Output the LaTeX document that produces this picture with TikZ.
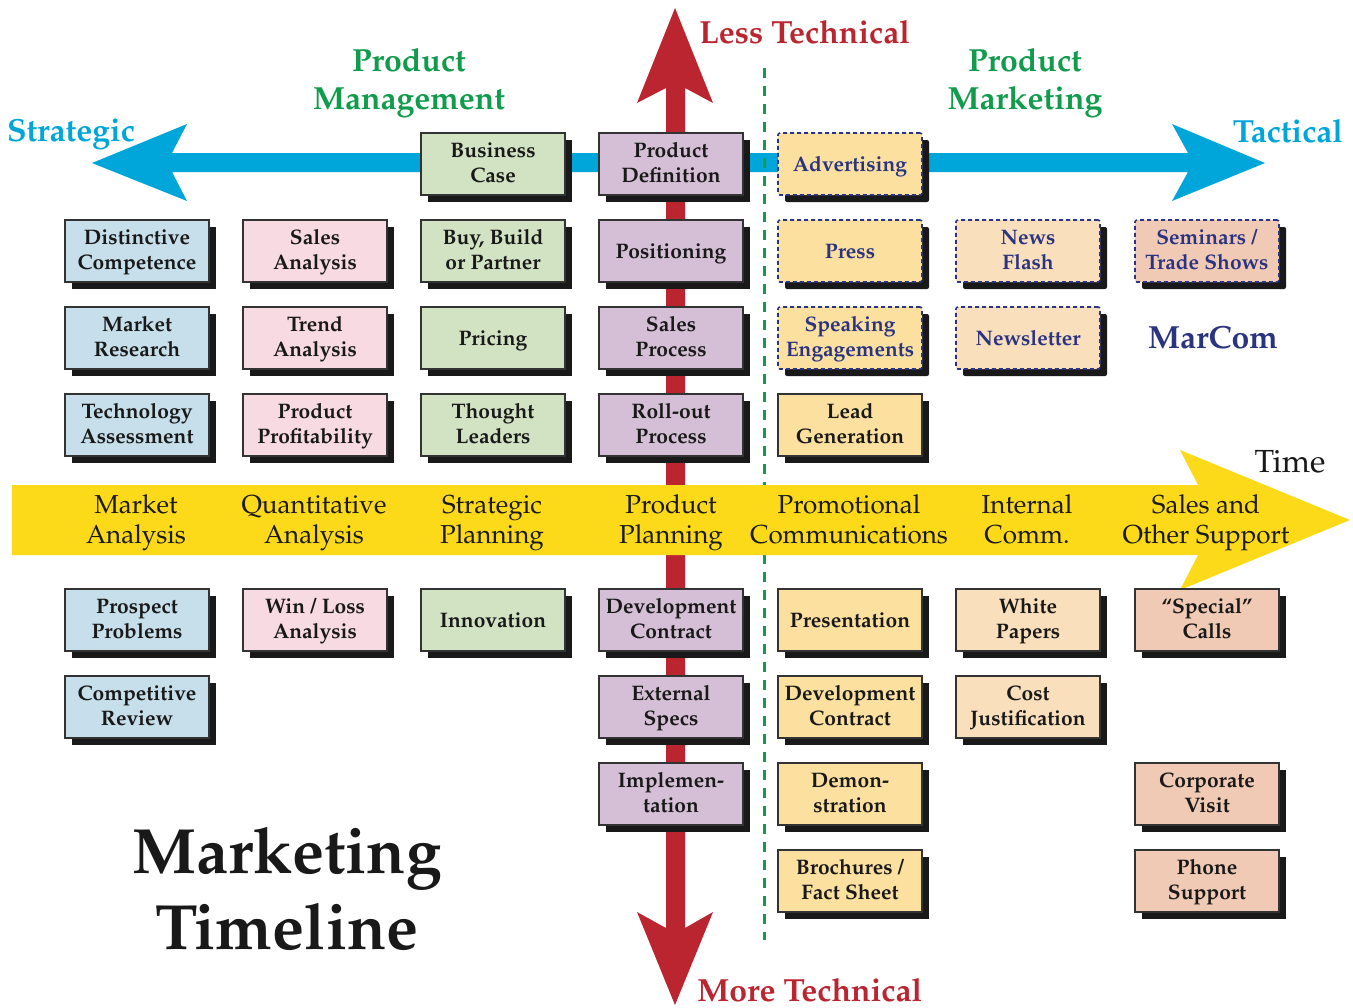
\documentclass[tikz,border=0pt]{standalone}
\usepackage[T1]{fontenc}
\usepackage{mathpazo}
\usetikzlibrary{shadows}

\definecolor{stratblue}{HTML}{00A6DA}
\definecolor{techred}{HTML}{BB2530}
\definecolor{timeyellow}{HTML}{FCD919}
\definecolor{pmgreen}{HTML}{109C4C}
\definecolor{navy}{HTML}{2B3480}
\definecolor{cblue}{HTML}{C6DFEA}
\definecolor{cpink}{HTML}{F8DAE3}
\definecolor{cgreen}{HTML}{D2E3C4}
\definecolor{cpurple}{HTML}{D5BFD6}
\definecolor{cyellow}{HTML}{FBE0A0}
\definecolor{cpeach}{HTML}{F9DFBB}
\definecolor{csalmon}{HTML}{F0CAB4}

\begin{document}
\begin{tikzpicture}[x=0.5pt, y=-0.5pt]
        \tikzstyle{every node}=[inner sep=0pt]
        \tikzstyle{box}=[rectangle, draw=black!80, line width=0.8pt, minimum width=72pt, minimum height=31pt, align=center, text=black!90, font=\fontsize{10.5}{12.5}\selectfont\bfseries, execute at begin node=\strut, text depth=1.5pt, drop shadow={shadow xshift=3.5pt, shadow yshift=-3.5pt, opacity=1, fill=black!90}]
        \tikzstyle{marcom}=[draw=navy, text=navy, dash pattern=on 2pt off 1.5pt, rounded corners=1pt]
        \tikzstyle{band}=[align=center, text=black!90, font=\fontsize{13}{15}\selectfont, execute at begin node=\strut, execute at end node=\strut]
        \tikzstyle{head}=[align=center, font=\fontsize{16}{19}\selectfont\bfseries]
        \useasboundingbox (0,0) rectangle (1353,1007);
        % axes
        \fill[stratblue] (92,163) -- (187,124) -- (172,153) -- (1188,153) -- (1172,124) -- (1265,163) -- (1172,201) -- (1188,172) -- (172,172) -- (187,201) -- cycle;
        \fill[techred] (675,8) -- (713,103) -- (685,88) -- (685,928) -- (713,912) -- (675,1005) -- (637,912) -- (666,928) -- (666,88) -- (637,103) -- cycle;
        \draw[pmgreen, line width=1.5pt, dash pattern=on 5pt off 4pt] (764,68) -- (764,940);
        \fill[timeyellow] (12,485) -- (1198,485) -- (1180,450) -- (1350,520) -- (1180,590) -- (1198,555) -- (12,555) -- cycle;
        % headings
        \node[head, text=stratblue] (strategic) at (71,134) {Strategic};
        \node[head, text=stratblue] (tactical) at (1288,131) {Tactical};
        \node[head, text=pmgreen] (prodmgmt) at (409,83) {Product\\Management};
        \node[head, text=pmgreen] (prodmkt) at (1025,83) {Product\\Marketing};
        \node[head, text=techred, anchor=west] (lesstech) at (699,32) {Less Technical};
        \node[head, text=techred, anchor=west] (moretech) at (697,990) {More Technical};
        \node[font=\fontsize{16}{19}\selectfont, text=black!90] (time) at (1290,462) {Time};
        \node[head, text=navy] (marcomlabel) at (1213,337) {MarCom};
        \node[align=center, font=\fontsize{32}{38}\selectfont\bfseries, text=black!90] (title) at (287,889) {Marketing\\Timeline};
        % time band
        \node[band] (mktanalysis) at (136,524) {Market\\Analysis};
        \node[band] (quantanalysis) at (314,524) {Quantitative\\Analysis};
        \node[band] (stratplan) at (492,524) {Strategic\\Planning};
        \node[band] (prodplan) at (671,524) {Product\\Planning};
        \node[band] (promo) at (849,524) {Promotional\\Communications};
        \node[band] (internal) at (1027,524) {Internal\\Comm.};
        \node[band] (salessupport) at (1206,524) {Sales and\\Other Support};
        % market analysis
        \node[box, fill=cblue] (distinct) at (137,251) {Distinctive\\Competence};
        \node[box, fill=cblue] (research) at (137,338) {Market\\Research};
        \node[box, fill=cblue] (techassess) at (137,425) {Technology\\Assessment};
        \node[box, fill=cblue] (prospect) at (137,620) {Prospect\\Problems};
        \node[box, fill=cblue] (competitive) at (137,707) {Competitive\\Review};
        % quantitative analysis
        \node[box, fill=cpink] (salesanalysis) at (315,251) {Sales\\Analysis};
        \node[box, fill=cpink] (trend) at (315,338) {Trend\\Analysis};
        \node[box, fill=cpink] (profit) at (315,425) {Product\\Profitability};
        \node[box, fill=cpink] (winloss) at (315,620) {Win / Loss\\Analysis};
        % strategic planning
        \node[box, fill=cgreen] (bizcase) at (493,164) {Business\\Case};
        \node[box, fill=cgreen] (buybuild) at (493,251) {Buy, Build\\or Partner};
        \node[box, fill=cgreen] (pricing) at (493,338) {Pricing};
        \node[box, fill=cgreen] (thought) at (493,425) {Thought\\Leaders};
        \node[box, fill=cgreen] (innovation) at (493,620) {Innovation};
        % product planning
        \node[box, fill=cpurple] (proddef) at (671,164) {Product\\Definition};
        \node[box, fill=cpurple] (positioning) at (671,251) {Positioning};
        \node[box, fill=cpurple] (salesproc) at (671,338) {Sales\\Process};
        \node[box, fill=cpurple] (rollout) at (671,425) {Roll-out\\Process};
        \node[box, fill=cpurple] (devcontract) at (671,620) {Development\\Contract};
        \node[box, fill=cpurple] (extspecs) at (671,707) {External\\Specs};
        \node[box, fill=cpurple] (implement) at (671,794) {Implemen-\\tation};
        % promotional communications
        \node[box, marcom, fill=cyellow] (advertising) at (850,164) {Advertising};
        \node[box, marcom, fill=cyellow] (press) at (850,251) {Press};
        \node[box, marcom, fill=cyellow] (speaking) at (850,338) {Speaking\\Engagements};
        \node[box, fill=cyellow] (leadgen) at (850,425) {Lead\\Generation};
        \node[box, fill=cyellow] (presentation) at (850,620) {Presentation};
        \node[box, fill=cyellow] (devcontract2) at (850,707) {Development\\Contract};
        \node[box, fill=cyellow] (demo) at (850,794) {Demon-\\stration};
        \node[box, fill=cyellow] (brochures) at (850,881) {Brochures /\\Fact Sheet};
        % internal comm.
        \node[box, marcom, fill=cpeach] (newsflash) at (1028,251) {News\\Flash};
        \node[box, marcom, fill=cpeach] (newsletter) at (1028,338) {Newsletter};
        \node[box, fill=cpeach] (whitepapers) at (1028,620) {White\\Papers};
        \node[box, fill=cpeach] (costjust) at (1028,707) {Cost\\Justification};
        % sales and other support
        \node[box, marcom, fill=csalmon] (seminars) at (1207,251) {Seminars /\\Trade Shows};
        \node[box, fill=csalmon] (specialcalls) at (1207,620) {``Special''\\Calls};
        \node[box, fill=csalmon] (corpvisit) at (1207,794) {Corporate\\Visit};
        \node[box, fill=csalmon] (phone) at (1207,881) {Phone\\Support};
    \end{tikzpicture}
\end{document}
